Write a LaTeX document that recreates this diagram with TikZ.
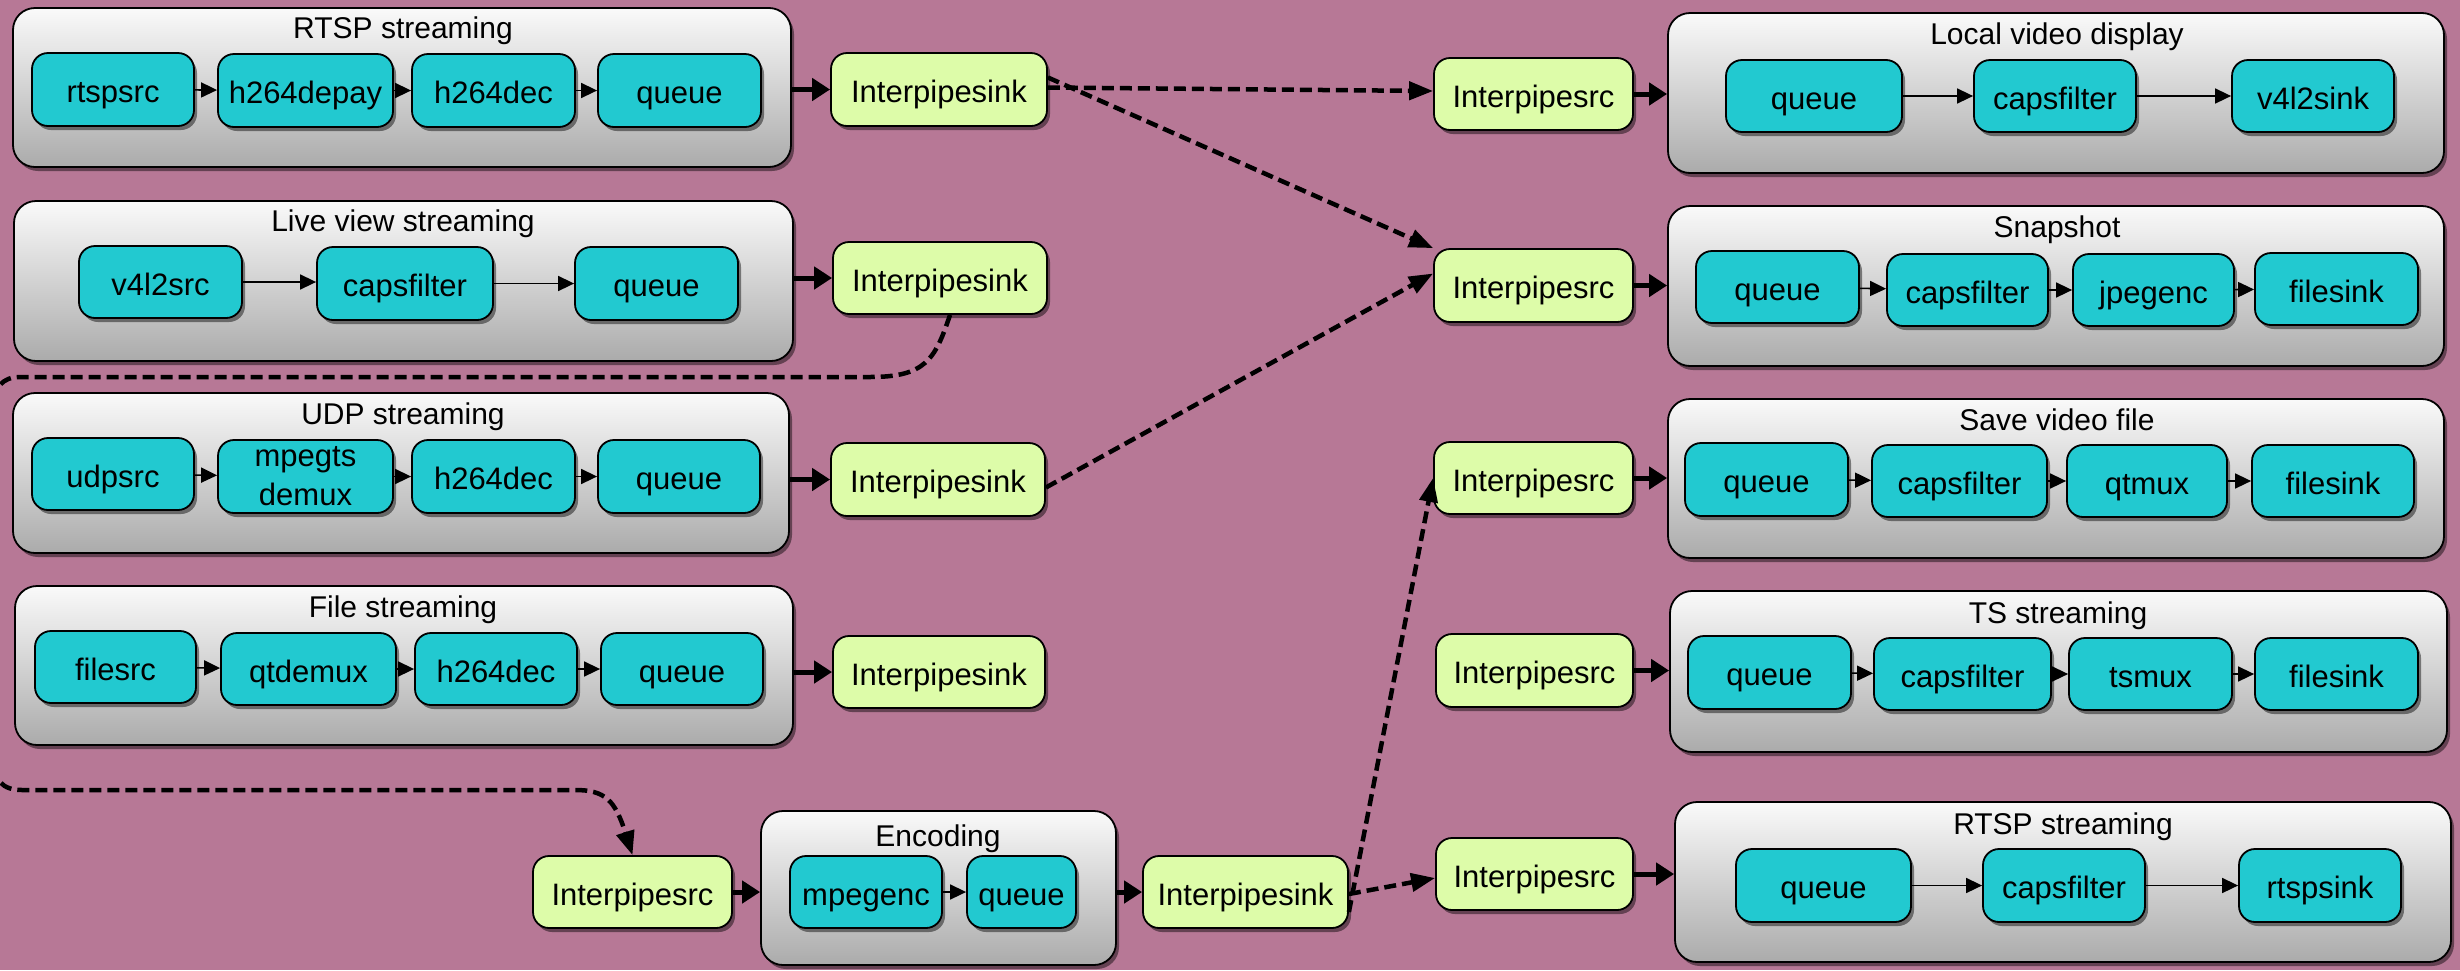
\documentclass[tikz,border=0pt]{standalone}
\usepackage{fontspec}
\setmainfont{Liberation Sans}
\usetikzlibrary{arrows.meta,shadows}
\definecolor{bgc}{RGB}{183,120,150}
\definecolor{tealc}{RGB}{34,201,208}
\definecolor{greenc}{RGB}{221,252,169}
\newcommand\mkbox[7]{%
  \node[#1, minimum width={#5pt-#3pt}, minimum height={#6pt-#4pt}] (#2) at ({(#3+#5)/2},{(#4+#6)/2}) {#7};}
\tikzset{
  shadowed/.style={drop shadow={shadow xshift=3pt,shadow yshift=-4pt,opacity=0.45,fill=black}},
  cont/.style={draw=black, line width=1.8pt, rounded corners=22pt, top color=white!98!black, bottom color=black!33, shadowed, inner sep=0pt},
  elembase/.style={draw=black, line width=1.8pt, rounded corners=16pt, fill=tealc, shadowed, inner sep=0pt, font=\fontsize{31}{37}\selectfont},
  elem/.style={elembase, text height=26pt, text depth=0pt},
  ipipe/.style={elem, fill=greenc},
  ttl/.style={inner sep=0pt, anchor=base, font=\fontsize{30}{36}\selectfont},
  sarr/.style={line width=1.6pt, -{Triangle[length=16pt,width=15pt]}},
  tarr/.style={line width=5pt, -{Triangle[length=18pt,width=22pt]}},
  darr/.style={line width=4.5pt, dash pattern=on 12pt off 6pt, -{Triangle[length=24pt,width=18pt]}},
}
\begin{document}
\begin{tikzpicture}[x=1pt,y=-1pt]
\fill[bgc] (0,0) rectangle (2460,970);
\useasboundingbox (0,0) rectangle (2460,970);

% ---------- RTSP streaming (input)
\mkbox{cont}{rtspc}{13}{8}{791}{167}{}
\node[ttl] (rtspt) at (403,38) {RTSP streaming};
\mkbox{elem}{rtspsrc}{32}{53}{194}{126}{rtspsrc}
\mkbox{elem}{depay}{218}{54}{393}{127}{h264depay}
\mkbox{elem}{dec1}{412}{54}{575}{127}{h264dec}
\mkbox{elem}{q1}{598}{54}{761}{127}{queue}
\mkbox{ipipe}{sink1}{831}{53}{1047}{126}{Interpipesink}
\draw[sarr] (rtspsrc) -- (depay);
\draw[sarr] (depay) -- (dec1);
\draw[sarr] (dec1) -- (q1);
\draw[tarr] (rtspc.east |- sink1.west) -- (sink1.west);

% ---------- Live view streaming
\mkbox{cont}{livec}{14}{201}{793}{361}{}
\node[ttl] (livet) at (403,231) {Live view streaming};
\mkbox{elem}{v4l2src}{79}{246}{242}{318}{v4l2src}
\mkbox{elem}{caps0}{317}{247}{493}{320}{capsfilter}
\mkbox{elem}{q2}{575}{247}{738}{320}{queue}
\mkbox{ipipe}{sink2}{833}{242}{1047}{314}{Interpipesink}
\draw[sarr] (v4l2src.east) -- (caps0.west |- v4l2src.east);
\draw[sarr] (caps0.east) -- (q2.west);
\draw[tarr] (livec.east |- sink2.west) -- (sink2.west);

% ---------- UDP streaming
\mkbox{cont}{udpc}{13}{393}{789}{553}{}
\node[ttl] (udpt) at (403,424) {UDP streaming};
\mkbox{elem}{udpsrc}{32}{438}{194}{510}{udpsrc}
\mkbox{elembase, align=center}{tsdemux}{218}{440}{393}{513}{mpegts\\[2pt]demux}
\mkbox{elem}{dec2}{412}{440}{575}{513}{h264dec}
\mkbox{elem}{q3}{598}{440}{760}{513}{queue}
\mkbox{ipipe}{sink3}{831}{443}{1045}{516}{Interpipesink}
\draw[sarr] (udpsrc) -- (tsdemux);
\draw[sarr] (tsdemux) -- (dec2);
\draw[sarr] (dec2) -- (q3);
\draw[tarr] (udpc.east |- sink3.west) -- (sink3.west);

% ---------- File streaming
\mkbox{cont}{filec}{15}{586}{793}{745}{}
\node[ttl] (filet) at (403,617) {File streaming};
\mkbox{elem}{filesrc}{35}{631}{196}{703}{filesrc}
\mkbox{elem}{qtdemux}{221}{633}{396}{705}{qtdemux}
\mkbox{elem}{dec3}{415}{633}{577}{705}{h264dec}
\mkbox{elem}{q4}{601}{633}{763}{705}{queue}
\mkbox{ipipe}{sink4}{833}{636}{1045}{708}{Interpipesink}
\draw[sarr] (filesrc) -- (qtdemux);
\draw[sarr] (qtdemux) -- (dec3);
\draw[sarr] (dec3) -- (q4);
\draw[tarr] (filec.east |- sink4.west) -- (sink4.west);

% ---------- Encoding
\mkbox{ipipe}{encsrc}{533}{856}{732}{928}{Interpipesrc}
\mkbox{cont}{encc}{761}{811}{1116}{965}{}
\node[ttl] (enct) at (938,846) {Encoding};
\mkbox{elem}{mpegenc}{790}{856}{942}{928}{mpegenc}
\mkbox{elem}{q5}{967}{856}{1076}{928}{queue}
\mkbox{ipipe}{encsink}{1143}{856}{1348}{928}{Interpipesink}
\draw[tarr] (encsrc.east) -- (encc.west |- encsrc.east);
\draw[sarr] (mpegenc) -- (q5);
\draw[tarr] (encc.east |- encsink.west) -- (encsink.west);

% ---------- Local video display
\mkbox{ipipe}{src1}{1434}{58}{1633}{130}{Interpipesrc}
\mkbox{cont}{lvdc}{1668}{13}{2444}{173}{}
\node[ttl] (lvdt) at (2057,44) {Local video display};
\mkbox{elem}{q6}{1726}{60}{1902}{132}{queue}
\mkbox{elem}{caps1}{1974}{60}{2136}{132}{capsfilter}
\mkbox{elem}{v4l2sink}{2232}{60}{2394}{132}{v4l2sink}
\draw[tarr] (src1.east) -- (lvdc.west |- src1.east);
\draw[sarr] (q6) -- (caps1);
\draw[sarr] (caps1) -- (v4l2sink);

% ---------- Snapshot
\mkbox{ipipe}{src2}{1434}{249}{1633}{322}{Interpipesrc}
\mkbox{cont}{snapc}{1668}{206}{2444}{366}{}
\node[ttl] (snapt) at (2057,237) {Snapshot};
\mkbox{elem}{q7}{1696}{251}{1859}{323}{queue}
\mkbox{elem}{caps2}{1887}{254}{2048}{326}{capsfilter}
\mkbox{elem}{jpegenc}{2073}{254}{2234}{326}{jpegenc}
\mkbox{elem}{fsink1}{2255}{253}{2418}{325}{filesink}
\draw[tarr] (src2.east) -- (snapc.west |- src2.east);
\draw[sarr] (q7) -- (caps2);
\draw[sarr] (caps2) -- (jpegenc);
\draw[sarr] (jpegenc) -- (fsink1);

% ---------- Save video file
\mkbox{ipipe}{src3}{1434}{442}{1633}{514}{Interpipesrc}
\mkbox{cont}{savec}{1668}{399}{2444}{558}{}
\node[ttl] (savet) at (2057,430) {Save video file};
\mkbox{elem}{q8}{1685}{443}{1848}{516}{queue}
\mkbox{elem}{caps3}{1872}{445}{2047}{517}{capsfilter}
\mkbox{elem}{qtmux}{2067}{445}{2227}{517}{qtmux}
\mkbox{elem}{fsink2}{2252}{445}{2414}{517}{filesink}
\draw[tarr] (src3.east) -- (savec.west |- src3.east);
\draw[sarr] (q8) -- (caps3);
\draw[sarr] (caps3) -- (qtmux);
\draw[sarr] (qtmux) -- (fsink2);

% ---------- TS streaming
\mkbox{ipipe}{src4}{1436}{634}{1633}{707}{Interpipesrc}
\mkbox{cont}{tsc}{1670}{591}{2447}{752}{}
\node[ttl] (tst) at (2058,623) {TS streaming};
\mkbox{elem}{q9}{1688}{636}{1851}{709}{queue}
\mkbox{elem}{caps4}{1874}{638}{2051}{710}{capsfilter}
\mkbox{elem}{tsmux}{2069}{638}{2232}{710}{tsmux}
\mkbox{elem}{fsink3}{2255}{638}{2418}{710}{filesink}
\draw[tarr] (src4.east) -- (tsc.west |- src4.east);
\draw[sarr] (q9) -- (caps4);
\draw[sarr] (caps4) -- (tsmux);
\draw[sarr] (tsmux) -- (fsink3);

% ---------- RTSP streaming (output)
\mkbox{ipipe}{src5}{1436}{838}{1633}{910}{Interpipesrc}
\mkbox{cont}{rtspoc}{1675}{802}{2451}{962}{}
\node[ttl] (rtspot) at (2063,834) {RTSP streaming};
\mkbox{elem}{q10}{1736}{849}{1911}{922}{queue}
\mkbox{elem}{caps5}{1983}{849}{2145}{922}{capsfilter}
\mkbox{elem}{rtspsink}{2239}{849}{2401}{922}{rtspsink}
\draw[tarr] (src5.east) -- (rtspoc.west |- src5.east);
\draw[sarr] (q10) -- (caps5);
\draw[sarr] (caps5) -- (rtspsink);

% ---------- dashed interpipe links
\draw[darr] ([yshift=2pt]sink1.east) -- ([yshift=3pt]src1.west);
\draw[darr] ([yshift=12pt]sink1.east) -- (src2.north west);
\draw[darr] ([yshift=-8pt]sink3.east) -- ([yshift=12pt]src2.west);
\draw[darr] ([xshift=10pt]sink2.south) .. controls (935,360) and (925,377) .. (870,377)
  -- (20,377) .. controls (2,377) and (-6,388) .. (-6,405) -- (-6,760)
  .. controls (-6,780) and (2,790) .. (22,790) -- (575,790)
  .. controls (605,790) and (615,800) .. (encsrc.north);
\draw[darr] ([yshift=-20pt]encsink.east) -- (src3.west);
\draw[darr] ([yshift=-2pt]encsink.east) -- ([yshift=-4pt]src5.west);
\end{tikzpicture}
\end{document}
